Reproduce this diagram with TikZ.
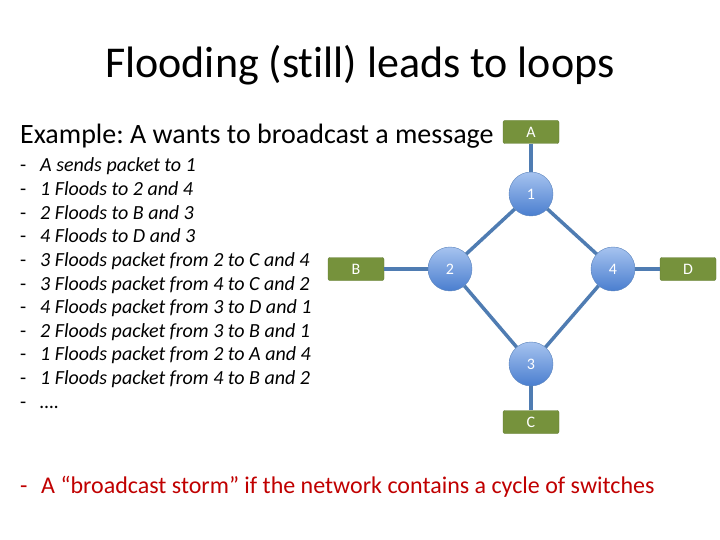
\documentclass[tikz,border=0pt]{standalone}
\usepackage{fontspec}
\setmainfont{Carlito}[Ligatures=NoCommon]
\frenchspacing
\usetikzlibrary{calc}
\definecolor{hostgreen}{HTML}{76923C}
\definecolor{hostline}{HTML}{5F7A2E}
\definecolor{linkblue}{HTML}{4F7CB2}
\definecolor{switchtop}{HTML}{A6C3EF}
\definecolor{switchbot}{HTML}{4A7ECF}
\definecolor{switchline}{HTML}{5A83BC}
\definecolor{stormred}{HTML}{C00000}
\tikzset{
   host/.style={draw=hostline, fill=hostgreen, rounded corners=2pt,
      minimum width=56pt, minimum height=23pt, inner sep=0pt,
      text=white, font=\fontsize{16}{16}\selectfont},
   switch/.style={circle, draw=switchline, top color=switchtop,
      bottom color=switchbot, minimum size=44pt, inner sep=0pt,
      text=white, font=\fontsize{16}{16}\selectfont},
   link/.style={draw=linkblue, line width=3.5pt},
   item/.style={anchor=base west, inner sep=0pt,
      font=\fontsize{20}{20}\selectfont\itshape},
   bullet/.style={anchor=base west, inner sep=0pt,
      font=\fontsize{20}{20}\selectfont},
}
\begin{document}
\begin{tikzpicture}[x=1pt, y=-1pt]
   \useasboundingbox (0,0) rectangle (720,540);
   \node[font=\fontsize{44}{44}\selectfont, anchor=base] (title) at (360,78)
      {Flooding (still) leads to loops};
   \node[font=\fontsize{28}{28}\selectfont, anchor=base west, inner sep=0pt]
      (example) at (20,144) {Example: A wants to broadcast a message};
   % steps of the flood
   \foreach \txt [count=\i] in {A sends packet to 1, 1 Floods to 2 and 4,
         2 Floods to B and 3, 4 Floods to D and 3,
         3 Floods packet from 2 to C and 4, 3 Floods packet from 4 to C and 2,
         4 Floods packet from 3 to D and 1, 2 Floods packet from 3 to B and 1,
         1 Floods packet from 2 to A and 4, 1 Floods packet from 4 to B and 2,
         \ldots.}{
      \node[bullet] (bullet\i) at (20,{172+23.6*(\i-1)}) {-};
      \node[item] (step\i) at (40,{172+23.6*(\i-1)}) {\txt};
   }
   % network
   \node[host] (A) at (531,132) {A};
   \node[host] (B) at (356,269) {B};
   \node[host] (C) at (531,422) {C};
   \node[host] (D) at (688,269) {D};
   \node[switch] (s1) at (531,194) {1};
   \node[switch] (s2) at (450,269) {2};
   \node[switch] (s4) at (613,269) {4};
   \node[switch] (s3) at (531,364) {3};
   \draw[link] (A) -- (s1);
   \draw[link] (B) -- (s2);
   \draw[link] (C) -- (s3);
   \draw[link] (D) -- (s4);
   \draw[link] (s1) -- (s2);
   \draw[link] (s1) -- (s4);
   \draw[link] (s2) -- (s3);
   \draw[link] (s4) -- (s3);
   \node[bullet, text=stormred, font=\fontsize{24}{24}\selectfont] (sdash)
      at (20,493) {-};
   \node[bullet, text=stormred, font=\fontsize{24}{24}\selectfont] (storm)
      at (41,493)
      {A “broadcast storm” if the network contains a cycle of switches};
\end{tikzpicture}
\end{document}
